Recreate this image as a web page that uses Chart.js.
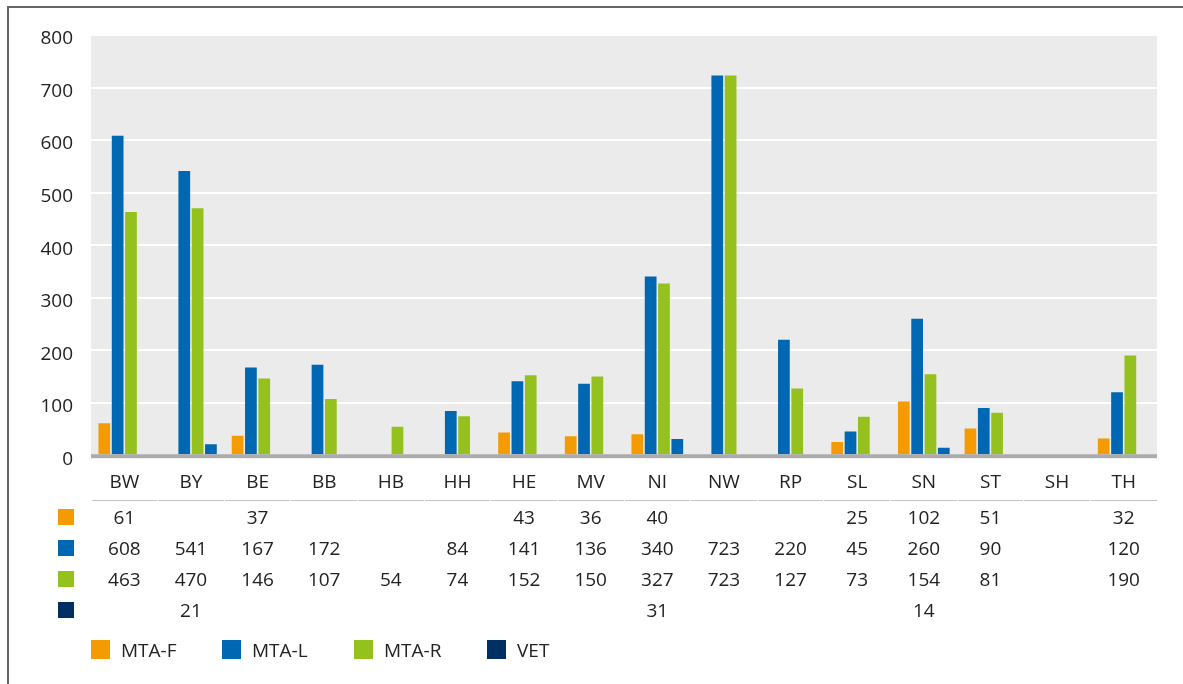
<!DOCTYPE html>
<html>
<head>
<meta charset="utf-8">
<script src="https://cdn.jsdelivr.net/npm/chart.js@4"></script>
<style>
  html, body { margin: 0; padding: 0; background: #fff; }
  body { width: 1183px; height: 684px; position: relative; overflow: hidden;
         font-family: "Open Sans", "Noto Sans", sans-serif; color: #222; }
  #frame { position: absolute; left: 7px; top: 6px; right: -2px; bottom: -2px;
           border-top: 2px solid #666; border-left: 2px solid #666; }
  #chart { position: absolute; left: 0; top: 0; width: 1183px; height: 684px; }
  .cell { position: absolute; width: 60px; margin-left: -30px; text-align: center;
          font-size: 19px; line-height: 24px; }
  .sq { position: absolute; width: 16px; height: 16px; }
  .sep { position: absolute; height: 1px; background: #c4c4c4; top: 500px; }
  .leg { position: absolute; top: 640px; font-size: 19px; line-height: 19px; }
  .leg i { display: inline-block; width: 19px; height: 19px; vertical-align: top; margin-right: 11px; }
  .leg span { display: inline-block; vertical-align: top; line-height: 20px; }
</style>
</head>
<body>
<div id="frame"></div>
<canvas id="chart" width="1183" height="684"></canvas>
<div id="table"></div>
<script>
const categories = ['BW', 'BY', 'BE', 'BB', 'HB', 'HH', 'HE', 'MV', 'NI', 'NW', 'RP', 'SL', 'SN', 'ST', 'SH', 'TH'];
const mtaF = [61, null, 37, null, null, null, 43, 36, 40, null, null, 25, 102, 51, null, 32];
const mtaL = [608, 541, 167, 172, null, 84, 141, 136, 340, 723, 220, 45, 260, 90, null, 120];
const mtaR = [463, 470, 146, 107, 54, 74, 152, 150, 327, 723, 127, 73, 154, 81, null, 190];
const vet = [null, 21, null, null, null, null, null, null, 31, null, null, null, 14, null, null, null];
const seriesNames = ['MTA-F', 'MTA-L', 'MTA-R', 'VET'];
const legendColors = ['#f39b00', '#0067b2', '#95c11f', '#002f64'];
// in the picture the VET bars are drawn in the MTA-L blue
const barColors = ['#f39b00', '#0067b2', '#95c11f', '#0067b2'];
const yTicks = [0, 100, 200, 300, 400, 500, 600, 700, 800];

const plotBg = {
  id: 'plotBg',
  beforeDraw(chart) {
    const a = chart.chartArea, c = chart.ctx;
    c.save();
    c.fillStyle = '#ebebeb';
    c.fillRect(a.left, a.top, a.right - a.left, a.bottom - a.top);
    c.restore();
  },
  afterDatasetsDraw(chart) {
    const a = chart.chartArea, c = chart.ctx;
    c.save();
    c.fillStyle = '#ababab';
    c.fillRect(a.left, a.bottom - 1, a.right - a.left, 4);
    c.restore();
  }
};

const allSeries = [mtaF, mtaL, mtaR, vet];

const chart = new Chart(document.getElementById('chart'), {
  type: 'bar',
  data: {
    labels: categories,
    datasets: allSeries.map((d, i) => ({
      label: seriesNames[i],
      data: d,
      backgroundColor: barColors[i],
      borderWidth: 0,
      categoryPercentage: 0.8,
      barPercentage: 0.88
    }))
  },
  options: {
    responsive: false,
    animation: false,
    devicePixelRatio: 1,
    layout: { padding: { left: 0, right: 26, top: 35, bottom: 182 } },
    plugins: { legend: { display: false }, tooltip: { enabled: false } },
    scales: {
      x: {
        grid: { display: false },
        border: { display: false },
        ticks: { color: '#222', font: { family: 'Open Sans', size: 19 }, padding: 8 }
      },
      y: {
        min: 0, max: 800,
        afterBuildTicks(s) { s.ticks = yTicks.map(v => ({ value: v })); },
        grid: { color: '#ffffff', lineWidth: 2, drawTicks: false },
        border: { display: false },
        ticks: { color: '#222', font: { family: 'Open Sans', size: 19 }, padding: 18, labelOffset: 4 },
        afterFit(s) { s.width = 91; }
      }
    }
  },
  plugins: [plotBg]
});

// data table and legend under the chart, aligned with the category columns
const tbl = document.getElementById('table');
const xs = chart.scales.x;
const colW = (chart.chartArea.right - chart.chartArea.left) / categories.length;
const rowY = [517, 548, 579, 610];
categories.forEach((cat, ci) => {
  const cx = xs.getPixelForValue(ci);
  const sep = document.createElement('div');
  sep.className = 'sep';
  sep.style.left = (cx - colW / 2 + 0.5) + 'px';
  sep.style.width = (colW - 1) + 'px';
  tbl.appendChild(sep);
  allSeries.forEach((d, si) => {
    if (d[ci] == null) return;
    const el = document.createElement('div');
    el.className = 'cell';
    el.style.left = cx + 'px';
    el.style.top = (rowY[si] - 12) + 'px';
    el.textContent = d[ci];
    tbl.appendChild(el);
  });
});
rowY.forEach((y, si) => {
  const sq = document.createElement('div');
  sq.className = 'sq';
  sq.style.left = '58px';
  sq.style.top = (y - 8) + 'px';
  sq.style.background = legendColors[si];
  tbl.appendChild(sq);
});
const legX = [91, 222, 354, 487];
seriesNames.forEach((n, si) => {
  const el = document.createElement('div');
  el.className = 'leg';
  el.style.left = legX[si] + 'px';
  el.innerHTML = '<i style="background:' + legendColors[si] + '"></i><span></span>';
  el.querySelector('span').textContent = n;
  tbl.appendChild(el);
});
</script>
</body>
</html>
